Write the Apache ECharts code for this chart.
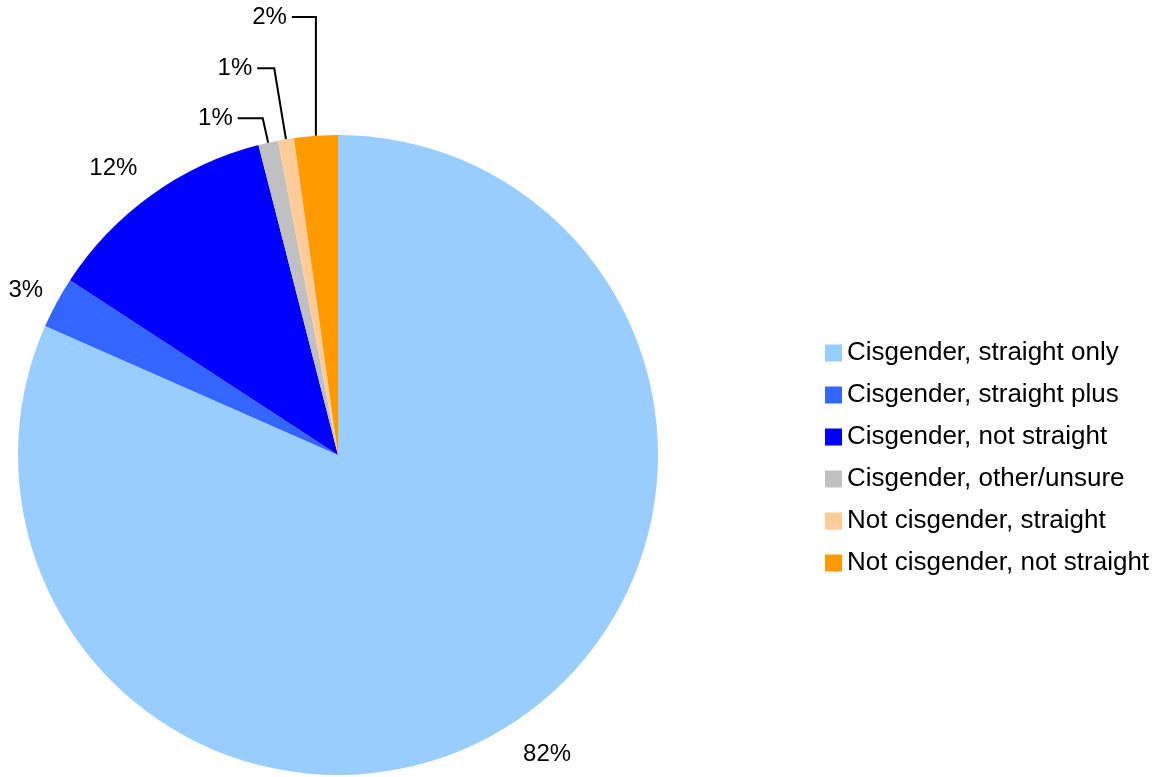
<!DOCTYPE html>
<html>
<head>
<meta charset="utf-8">
<script src="https://cdn.jsdelivr.net/npm/echarts@6/dist/echarts.min.js"></script>
<style>
html,body{margin:0;padding:0;background:#fff;}
#chart{width:1158px;height:777px;}
</style>
</head>
<body>
<div id="chart"></div>
<script>
const categories = ['Cisgender, straight only','Cisgender, straight plus','Cisgender, not straight','Cisgender, other/unsure','Not cisgender, straight','Not cisgender, not straight'];
const values = [81.6, 2.6, 11.8, 1.0, 0.8, 2.2];
const colors = ['#99CCFF','#3366FF','#0000FF','#C0C0C0','#FFCC99','#FF9900'];
// label leader settings per slice (style only)
const lineLen = [37, 26, 33, 25, 72, 119];
const lineLen2 = [9, 3, 14, 25, 17, 24];
const showLine = [false, false, false, true, true, true];
const verticalLine = [false, false, false, false, false, true];

const chart = echarts.init(document.getElementById('chart'), null, {renderer:'canvas'});
const font = 'Liberation Sans, Arial, sans-serif';
chart.setOption({
  animation: false,
  backgroundColor: '#fff',
  legend: {
    orient: 'vertical',
    left: 820,
    top: 335,
    icon: 'rect',
    itemWidth: 17,
    itemHeight: 17,
    itemGap: 16,
    textStyle: {fontFamily: font, fontSize: 26, color: '#000'},
    data: categories
  },
  series: [{
    type: 'pie',
    center: [338, 455],
    radius: [0, 320],
    startAngle: 90,
    clockwise: true,
    avoidLabelOverlap: false,
    label: {
      show: true,
      position: 'outside',
      fontFamily: font,
      fontSize: 24,
      color: '#000',
      formatter: p => Math.round(p.percent) + '%'
    },
    labelLine: {lineStyle: {color: '#000', width: 2}},
    labelLayout: function (params) {
      const i = params.dataIndex;
      if (!showLine[i]) return {align: 'center'};
      const pts = params.labelLinePoints;
      if (verticalLine[i] && pts && pts.length === 3) {
        const shift = pts[0][0] - pts[1][0];
        return {
          dx: shift,
          labelLinePoints: [
            [pts[0][0], pts[0][1]],
            [pts[0][0], pts[1][1]],
            [pts[2][0] + shift, pts[2][1]]
          ]
        };
      }
      return {};
    },
    data: categories.map((c, i) => ({
      name: c,
      value: values[i],
      itemStyle: {color: colors[i]},
      labelLine: {show: showLine[i], length: lineLen[i], length2: lineLen2[i], smooth: false}
    }))
  }]
});
</script>
</body>
</html>
